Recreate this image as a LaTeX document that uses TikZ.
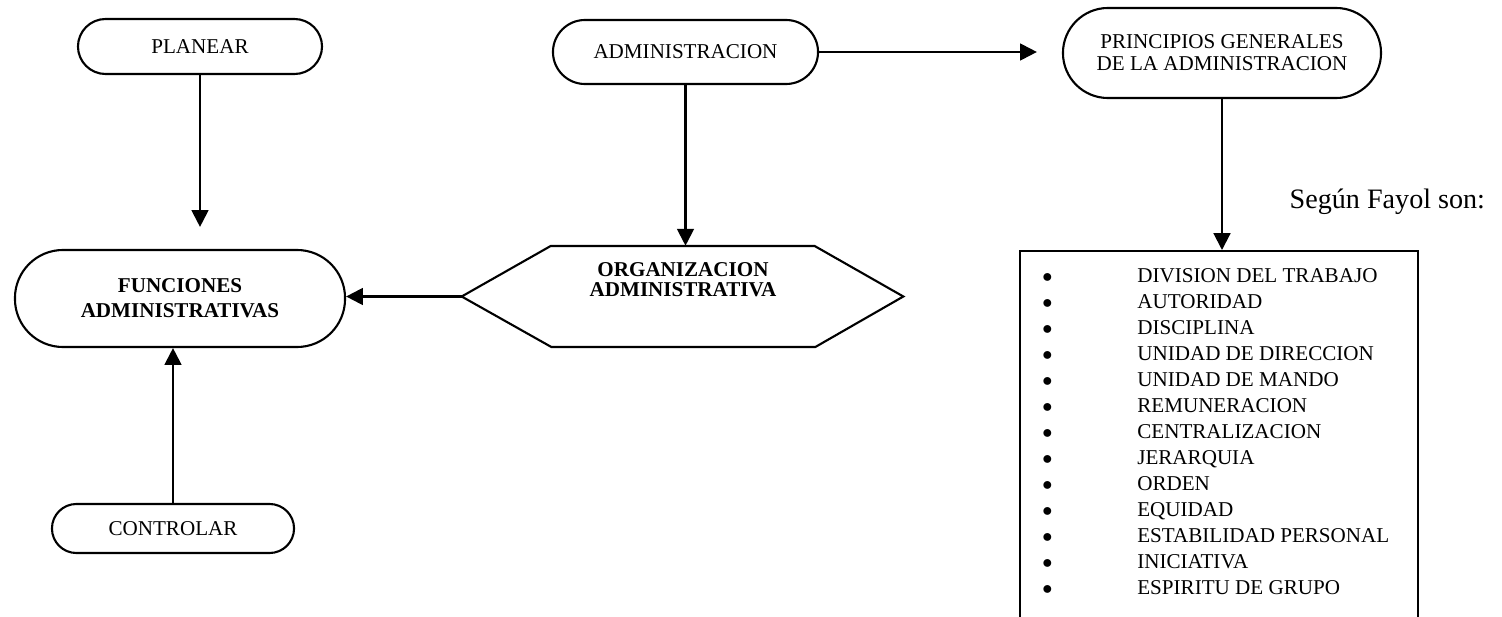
\documentclass[tikz,border=0pt]{standalone}
\usepackage{fontspec}
\setmainfont{Liberation Serif}
\usetikzlibrary{arrows.meta,positioning,calc}
\newcommand{\pto}{\makebox[2.375cm][l]{$\bullet$}}
\tikzset{
  capsula/.style={rectangle, rounded corners=#1, draw, line width=1.5pt,
                  align=center, inner sep=0pt},
  marco/.style={rectangle, draw, line width=1.5pt, inner sep=0pt},
  arr/.style={-{Triangle[length=12pt,width=12pt]}, line width=1.5pt},
}

\begin{document}
\begin{tikzpicture}[x=0.025cm, y=-0.025cm, font=\fontsize{15}{18}\selectfont]
    \useasboundingbox (0,0) rectangle (1502,617);
    \clip (0,0) rectangle (1502,617);
    % Funciones (columna izquierda)
    \node[capsula=0.69cm, minimum width=6.1cm, minimum height=1.375cm] (planear) at (200,46.5) {PLANEAR};
    \node[capsula=1.2cm, minimum width=8.25cm, minimum height=2.425cm,
          font=\fontsize{15}{17.8}\selectfont\bfseries] (funciones) at (180,298.5)
      {FUNCIONES\\ADMINISTRATIVAS};
    \node[capsula=0.61cm, minimum width=6.05cm, minimum height=1.225cm] (controlar) at (173,528.5) {CONTROLAR};
    % Centro
    \node[capsula=0.8cm, minimum width=6.625cm, minimum height=1.6cm] (admin) at (685.5,52) {ADMINISTRACION};
    \node[minimum width=11.025cm, minimum height=2.525cm, inner sep=0pt] (org) at (682.5,296.5) {};
    \draw[line width=1.5pt] (org.west) -- ++(89,-50.5) -- ++(264,0) -- (org.east)
      -- ++(-88,50.5) -- ++(-264,0) -- cycle;
    \node[font=\fontsize{15}{14}\selectfont\bfseries, align=center] (orgtexto) at (683,280)
      {ORGANIZACION\\ADMINISTRATIVA};
    % Principios
    \node[capsula=1.125cm, minimum width=7.95cm, minimum height=2.25cm,
          font=\fontsize{15}{15.5}\selectfont] (principios) at (1222,53)
      {PRINCIPIOS GENERALES\\DE LA ADMINISTRACION};
    \node[font=\fontsize{20}{24}\selectfont, anchor=base east] (fayol) at (1490,209) {Según Fayol son:};
    \node[marco, minimum width=9.95cm, minimum height=10cm, anchor=north] (lista) at (1219,250) {};
    \node[anchor=north west, align=left, inner sep=0pt, font=\fontsize{15}{18.5}\selectfont] (items) at (1042,268)
      {\pto DIVISION DEL TRABAJO\\ \pto AUTORIDAD\\ \pto DISCIPLINA\\ \pto UNIDAD DE DIRECCION\\
       \pto UNIDAD DE MANDO\\ \pto REMUNERACION\\ \pto CENTRALIZACION\\ \pto JERARQUIA\\
       \pto ORDEN\\ \pto EQUIDAD\\ \pto ESTABILIDAD PERSONAL\\ \pto INICIATIVA\\
       \pto ESPIRITU DE GRUPO};
    % Flechas
    \draw[arr, shorten >=0.55cm] (planear) -- (planear.south |- funciones.north);
    \draw[arr] (controlar) -- (controlar.north |- funciones.south);
    \draw[arr] (admin) -- (admin.south |- org.north);
    \draw[arr] (org.west) -- (org.west -| funciones.east);
    \draw[arr, shorten >=0.625cm] (admin) -- (admin.east -| principios.west);
    \draw[arr] (principios) -- (principios.south |- lista.north);
\end{tikzpicture}
\end{document}
